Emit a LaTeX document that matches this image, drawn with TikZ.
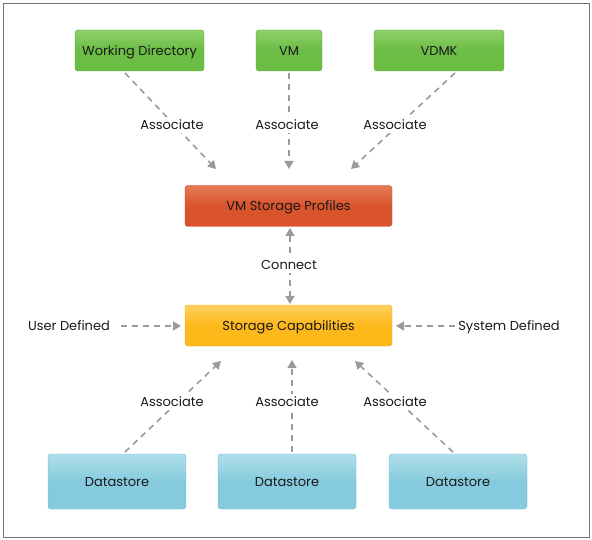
\documentclass[tikz,border=0pt]{standalone}
\usepackage{fontspec}
\setmainfont{Poppins}
\usetikzlibrary{arrows.meta}
\definecolor{grn}{HTML}{6CBD45}
\definecolor{grnD}{HTML}{5BA63A}
\definecolor{grnL}{HTML}{8ED06A}
\definecolor{org}{HTML}{D9532B}
\definecolor{orgD}{HTML}{C44522}
\definecolor{orgL}{HTML}{E47A58}
\definecolor{yel}{HTML}{FDB81A}
\definecolor{yelD}{HTML}{EDA510}
\definecolor{yelL}{HTML}{FFD060}
\definecolor{blu}{HTML}{85CBDD}
\definecolor{bluD}{HTML}{6DB7CB}
\definecolor{bluL}{HTML}{B0DFEA}
\definecolor{arr}{HTML}{9A9A9A}
\definecolor{txt}{HTML}{1A1A1A}
\tikzset{
  fnt/.style={font=\fontsize{13}{15}\selectfont, text=txt, text height=11pt, text depth=1.5pt},
  box/.style={fnt, rounded corners=3pt, minimum height=41pt, inner sep=0pt},
  gbox/.style={box, draw=grnD, top color=grnL, bottom color=grn, middle color=grn},
  obox/.style={box, draw=orgD, top color=orgL, bottom color=org, middle color=org},
  ybox/.style={box, draw=yelD, top color=yelL, bottom color=yel, middle color=yel},
  bbox/.style={box, draw=bluD, top color=bluL, bottom color=blu, middle color=blu, minimum height=55pt},
  con/.style={draw=arr, line width=1.6pt, dash pattern=on 6pt off 5pt, -{Triangle[length=8pt,width=9pt]}},
  lbl/.style={fnt, fill=white, inner sep=2pt},
  plain/.style={fnt, inner sep=0pt}
}
\begin{document}
\begin{tikzpicture}[x=1pt,y=-1pt]
\useasboundingbox (0,0) rectangle (592,540);
\draw[black!55, line width=0.8pt] (3,3) rectangle (589,537);
% nodes
\node[gbox, minimum width=129pt] (wd) at (139.5,50.5) {Working Directory};
\node[gbox, minimum width=66pt] (vm) at (289,50.5) {VM};
\node[gbox, minimum width=130pt] (vdmk) at (439,50.5) {VDMK};
\node[obox, minimum width=207pt] (vsp) at (288.5,206) {VM Storage Profiles};
\node[ybox, minimum width=207pt] (sc) at (288.5,325.5) {Storage Capabilities};
\node[bbox, minimum width=138pt] (d1) at (117,481.5) {Datastore};
\node[bbox, minimum width=138pt] (d2) at (287,481.5) {Datastore};
\node[bbox, minimum width=138pt] (d3) at (458,481.5) {Datastore};
\node[plain] (ud) at (69,326) {User Defined};
\node[plain] (sd) at (509,326) {System Defined};
% anchor coordinates
\coordinate (a1s) at (125,73);
\coordinate (a1e) at (216,169);
\coordinate (a2s) at (289,73);
\coordinate (a2e) at (289,169);
\coordinate (a3s) at (455,73);
\coordinate (a3e) at (351,169);
\coordinate (cs) at (290,228);
\coordinate (ce) at (290,304);
\coordinate (us) at (121,326);
\coordinate (ue) at (181,326);
\coordinate (ss) at (455,326);
\coordinate (se) at (396,326);
\coordinate (b1s) at (125,452);
\coordinate (b1e) at (221,361);
\coordinate (b2s) at (292,452);
\coordinate (b2e) at (292,360);
\coordinate (b3s) at (453,452);
\coordinate (b3e) at (355,361);
% connectors
\draw[con] (a1s) -- (a1e);
\draw[con] (a2s) -- (a2e);
\draw[con] (a3s) -- (a3e);
\draw[con, {Triangle[length=8pt,width=9pt]}-{Triangle[length=8pt,width=9pt]}] (cs) -- (ce);
\draw[con] (us) -- (ue);
\draw[con] (ss) -- (se);
\draw[con] (b1s) -- (b1e);
\draw[con] (b2s) -- (b2e);
\draw[con] (b3s) -- (b3e);
% labels
\node[lbl] at (172,125) {Associate};
\node[lbl] at (287,125) {Associate};
\node[lbl] at (395,125) {Associate};
\node[lbl] at (289,265) {Connect};
\node[lbl] at (172,402) {Associate};
\node[lbl] at (287,402) {Associate};
\node[lbl] at (395,402) {Associate};
\end{tikzpicture}
\end{document}
